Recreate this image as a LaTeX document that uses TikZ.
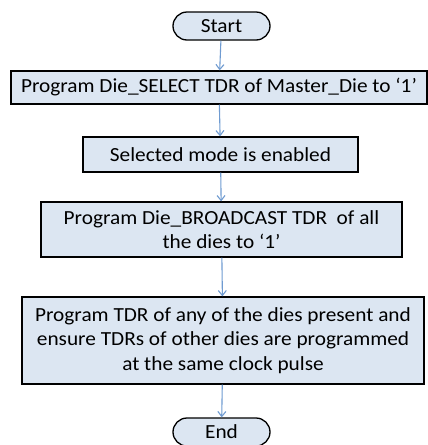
\documentclass[tikz,border=0pt]{standalone}
\usepackage{fontspec}
\setmainfont{Carlito}[FakeStretch=1.065]
\usetikzlibrary{arrows.meta}
\definecolor{boxfill}{HTML}{DCE6F2}
\definecolor{flowline}{HTML}{6F9BD1}
\tikzset{
  stepbox/.style={draw=black, line width=1.3pt, fill=boxfill, align=center,
    inner sep=0pt, font=\fontsize{20}{24.5}\selectfont},
  terminal/.style={stepbox, rounded corners=14pt},
  flow/.style={draw=flowline, line width=1.1pt,
    -{Straight Barb[length=5pt, width=8pt, line width=1.1pt]}}
}
\begin{document}
\begin{tikzpicture}[x=1pt, y=-1pt]
\useasboundingbox (0,0) rectangle (428,445);
\node[terminal, minimum width=97pt, minimum height=28pt] (start) at (221.5,26) {Start};
\node[stepbox, minimum width=416pt, minimum height=33pt] (s1) at (219,87.5)
  {Program Die\_SELECT TDR of Master\_Die to ‘1’};
\node[stepbox, minimum width=275pt, minimum height=35pt] (s2) at (220.5,154.5)
  {Selected mode is enabled};
\node[stepbox, minimum width=361pt, minimum height=55pt] (s3) at (221.5,229.5)
  {Program Die\_BROADCAST TDR\ \ of all\\the dies to ‘1’};
\node[stepbox, minimum width=402pt, minimum height=87pt] (s4) at (223,340.5)
  {Program TDR of any of the dies present and\\ensure TDRs of other dies are programmed\\at the same clock pulse};
\node[terminal, minimum width=97pt, minimum height=28pt] (end) at (221.5,432) {End};
\draw[flow] (start) -- (s1);
\draw[flow] (s1) -- (s2);
\draw[flow] (s2) -- (s3);
\draw[flow] (s3) -- (s4);
\draw[flow] (s4) -- (end);
\end{tikzpicture}
\end{document}
